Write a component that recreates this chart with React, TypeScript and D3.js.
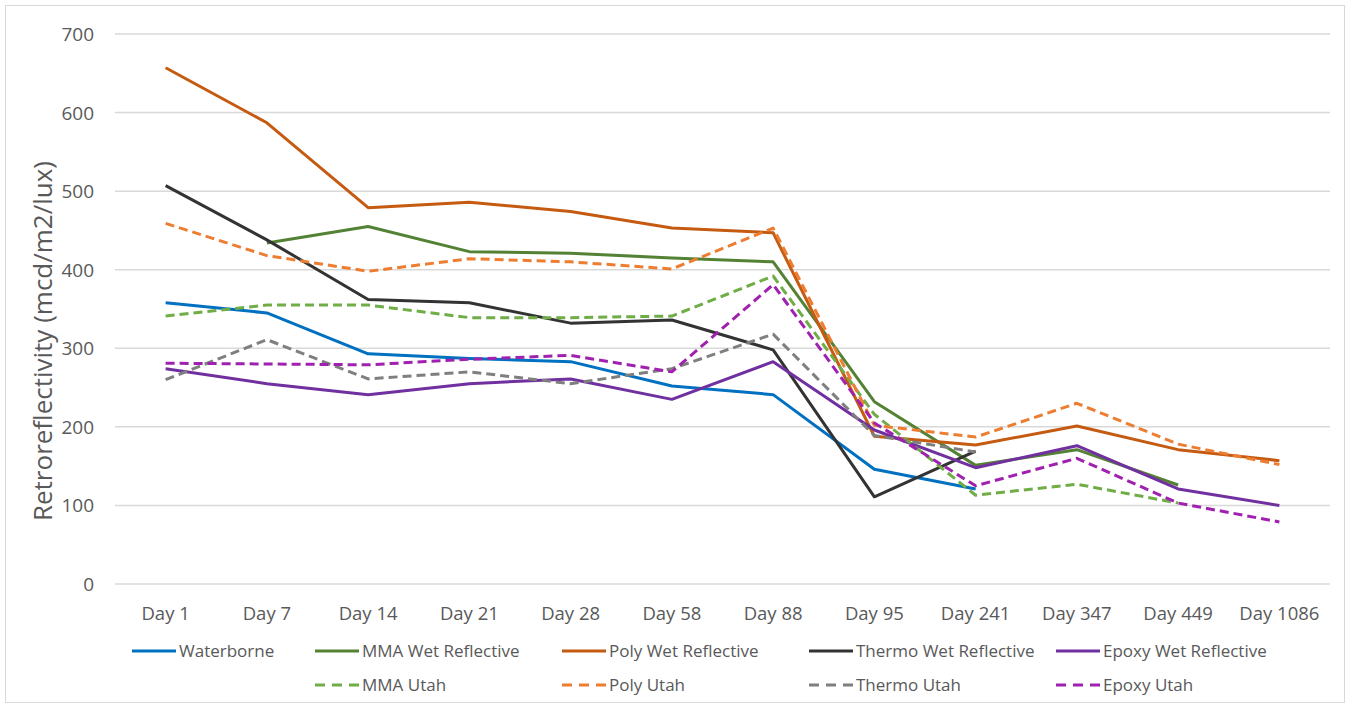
import * as d3 from 'd3';

const W = 1350;
const H = 708;

const DAYS = ['Day 1', 'Day 7', 'Day 14', 'Day 21', 'Day 28', 'Day 58', 'Day 88', 'Day 95', 'Day 241', 'Day 347', 'Day 449', 'Day 1086'];
const Y_TICKS = [0, 100, 200, 300, 400, 500, 600, 700];

type V = number | null;

const waterborne: V[] = [358, 345, 293, 287, 283, 252, 241, 146, 121, null, null, null];
const mmaWet: V[] = [null, 434, 455, 423, 421, 415, 410, 232, 151, 171, 126, null];
const polyWet: V[] = [657, 587, 479, 486, 474, 453, 447, 188, 177, 201, 171, 157];
const thermoWet: V[] = [507, 438, 362, 358, 332, 336, 298, 111, 169, null, null, null];
const epoxyWet: V[] = [274, 255, 241, 255, 261, 235, 283, 196, 148, 176, 121, 100];
const mmaUtah: V[] = [341, 355, 355, 339, 339, 341, 392, 216, 113, 127, 103, null];
const polyUtah: V[] = [459, 418, 398, 414, 410, 401, 453, 202, 187, 230, 178, 152];
const thermoUtah: V[] = [260, 311, 261, 270, 255, 274, 318, 189, 168, null, null, null];
const epoxyUtah: V[] = [281, 280, 279, 286, 291, 270, 381, 205, 125, 160, 103, 79];

type Series = { name: string; values: V[]; color: string; dashed: boolean };

const SERIES: Series[] = [
  { name: 'Waterborne', values: waterborne, color: '#0070C0', dashed: false },
  { name: 'MMA Wet Reflective', values: mmaWet, color: '#548235', dashed: false },
  { name: 'Poly Wet Reflective', values: polyWet, color: '#C55A11', dashed: false },
  { name: 'Thermo Wet Reflective', values: thermoWet, color: '#333333', dashed: false },
  { name: 'Epoxy Wet Reflective', values: epoxyWet, color: '#7030A0', dashed: false },
  { name: 'MMA Utah', values: mmaUtah, color: '#70AD47', dashed: true },
  { name: 'Poly Utah', values: polyUtah, color: '#ED7D31', dashed: true },
  { name: 'Thermo Utah', values: thermoUtah, color: '#7F7F7F', dashed: true },
  { name: 'Epoxy Utah', values: epoxyUtah, color: '#A020B0', dashed: true },
];

// legend slots: [line start x, row]
const LEGEND_POS: [number, number][] = [
  [132, 0], [315, 0], [562, 0], [809, 0], [1056, 0],
  [315, 1], [562, 1], [809, 1], [1056, 1],
];

const FONT = '"Open Sans", sans-serif';

export default function App() {
  const x = d3.scaleBand<string>().domain(DAYS).range([115, 1330]);
  const y = d3.scaleLinear().domain([0, 700]).range([584, 34]);

  const line = d3.line<V>()
    .defined(d => d !== null)
    .x((_, i) => (x(DAYS[i]) ?? 0) + x.bandwidth() / 2)
    .y(d => y(d as number));

  return (
    <div style={{ position: 'absolute', left: 0, top: 0 }}>
      <svg width={W} height={H} style={{ display: 'block', fontFamily: FONT }}>
        <rect x={0} y={0} width={W} height={H} fill="white" />
        <rect x={5.5} y={5.5} width={W - 11} height={H - 11} fill="none" stroke="#d9d9d9" strokeWidth={1} />

        {/* gridlines + y ticks */}
        {Y_TICKS.map(t => (
          <g key={t}>
            <line x1={115} x2={1330} y1={y(t)} y2={y(t)} stroke="#d9d9d9" strokeWidth={1.5} />
            <text x={94} y={y(t) + 7} textAnchor="end" fontSize={19} fill="#595959">{t}</text>
          </g>
        ))}

        {/* x labels */}
        {DAYS.map(d => (
          <text key={d} x={(x(d) ?? 0) + x.bandwidth() / 2} y={620} textAnchor="middle"
            fontSize={18.5} fill="#595959">{d}</text>
        ))}

        <text transform="translate(52,341) rotate(-90)" textAnchor="middle"
          fontSize={26} fill="#595959">
          Retroreflectivity (mcd/m2/lux)
        </text>

        {/* lines */}
        {SERIES.map(s => (
          <path key={s.name} d={line(s.values) ?? ''} fill="none" stroke={s.color}
            strokeWidth={3} strokeDasharray={s.dashed ? '9 5' : undefined}
            strokeLinejoin="round" />
        ))}

        {/* legend */}
        {SERIES.map((s, i) => {
          const [lx, row] = LEGEND_POS[i];
          const ly = 651 + row * 34;
          return (
            <g key={s.name}>
              <line x1={lx} x2={lx + 44} y1={ly} y2={ly} stroke={s.color} strokeWidth={3}
                strokeDasharray={s.dashed ? '10 7' : undefined} />
              <text x={lx + 47} y={ly + 6} fontSize={17} fill="#595959">{s.name}</text>
            </g>
          );
        })}
      </svg>
    </div>
  );
}
